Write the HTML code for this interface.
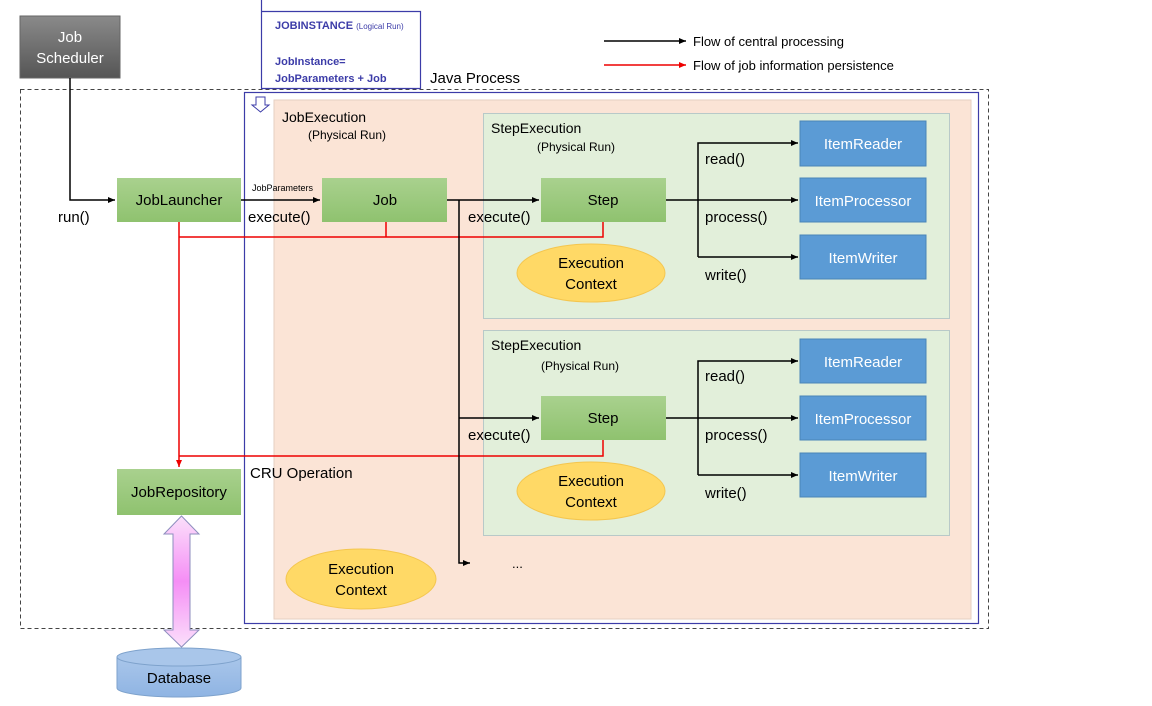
<!DOCTYPE html>
<html><head><meta charset="utf-8"><style>
html,body{margin:0;padding:0;background:#fff;}
svg text{font-family:"Liberation Sans",sans-serif;}
</style></head><body>
<svg width="1152" height="701" viewBox="0 0 1152 701" xmlns="http://www.w3.org/2000/svg">
<defs>
<marker id="ab" markerWidth="8" markerHeight="8" refX="7" refY="4" orient="auto" markerUnits="userSpaceOnUse"><path d="M0,1 L7,4 L0,7 z" fill="#000"/></marker>
<marker id="ar" markerWidth="8" markerHeight="8" refX="7" refY="4" orient="auto" markerUnits="userSpaceOnUse"><path d="M0,1 L7,4 L0,7 z" fill="#e00"/></marker>
<linearGradient id="gg" x1="0" y1="0" x2="0" y2="1"><stop offset="0" stop-color="#a9d18e"/><stop offset="1" stop-color="#8fc26f"/></linearGradient>
<linearGradient id="gs" x1="0" y1="0" x2="0" y2="1"><stop offset="0" stop-color="#8a8a8a"/><stop offset="1" stop-color="#555"/></linearGradient>
<linearGradient id="gp" x1="0" y1="0" x2="0" y2="1"><stop offset="0" stop-color="#fbe0fb"/><stop offset="0.5" stop-color="#f58ef5"/><stop offset="1" stop-color="#fbe0fb"/></linearGradient>
<linearGradient id="gd" x1="0" y1="0" x2="0" y2="1"><stop offset="0" stop-color="#a9c6ea"/><stop offset="1" stop-color="#8fb4e3"/></linearGradient>
</defs>

<!-- legend -->
<line x1="604" y1="41" x2="686" y2="41" stroke="#000" stroke-width="1.5" marker-end="url(#ab)"/>
<text x="693" y="46" font-size="13">Flow of central processing</text>
<line x1="604" y1="65" x2="686" y2="65" stroke="#e00" stroke-width="1.5" marker-end="url(#ar)"/>
<text x="693" y="70" font-size="13">Flow of job information persistence</text>

<!-- Job scheduler -->
<rect x="20" y="16" width="100" height="62" fill="url(#gs)" stroke="#666"/>
<text x="70" y="42" font-size="15" text-anchor="middle" fill="#fff">Job</text>
<text x="70" y="63" font-size="15" text-anchor="middle" fill="#fff">Scheduler</text>

<!-- Java process -->
<rect x="20.5" y="89.5" width="968" height="539" fill="none" stroke="#444" stroke-dasharray="4,3"/>
<text x="430" y="83" font-size="15">Java Process</text>

<!-- JobExecution -->
<rect x="274" y="100" width="697" height="519" fill="#fbe4d6" stroke="#e6cfc2"/>
<rect x="244.5" y="92.5" width="734" height="531" fill="none" stroke="#3c3ca8" stroke-width="1.2"/>
<text x="282" y="122" font-size="14">JobExecution</text>
<text x="308" y="139" font-size="12">(Physical Run)</text>

<!-- JOBINSTANCE -->
<path d="M261.5,0 V88.5 H420.5 V11.5 H261.5" fill="#fff" stroke="#3c3ca8" stroke-width="1.2"/>
<text x="275" y="29" font-size="11" font-weight="bold" fill="#3c3ca8">JOBINSTANCE <tspan font-size="8" font-weight="normal">(Logical Run)</tspan></text>
<text x="275" y="65" font-size="11" font-weight="bold" fill="#3c3ca8">JobInstance=</text>
<text x="275" y="82" font-size="11" font-weight="bold" fill="#3c3ca8">JobParameters + Job</text>
<path d="M256,97 H265 V105 H269 L260.5,112 L252,105 H256 Z" fill="#fff" stroke="#3c3ca8"/>

<!-- StepExecutions -->
<rect x="483.5" y="113.5" width="466" height="205" fill="#e2efda" stroke="#b8c9c8"/>
<text x="491" y="133" font-size="14">StepExecution</text>
<text x="537" y="151" font-size="12">(Physical Run)</text>
<rect x="483.5" y="330.5" width="466" height="205" fill="#e2efda" stroke="#b8c9c8"/>
<text x="491" y="350" font-size="14">StepExecution</text>
<text x="541" y="370" font-size="12">(Physical Run)</text>

<!-- red lines -->
<g stroke="#e00" stroke-width="1.5" fill="none">
<path d="M179,222 V467" marker-end="url(#ar)"/>
<path d="M179,237 H603 V222"/>
<path d="M386,222 V237"/>
<path d="M179,456 H603 V440"/>
</g>

<!-- black lines -->
<g stroke="#000" stroke-width="1.5" fill="none">
<path d="M70,78 V200 H115" marker-end="url(#ab)"/>
<path d="M241,200 H320" marker-end="url(#ab)"/>
<path d="M447,200 H539" marker-end="url(#ab)"/>
<path d="M459,200 V563 H470" marker-end="url(#ab)"/>
<path d="M459,418 H539" marker-end="url(#ab)"/>
<path d="M666,200 H798" marker-end="url(#ab)"/>
<path d="M698,257 V143 H798" marker-end="url(#ab)"/>
<path d="M698,257 H798" marker-end="url(#ab)"/>
<path d="M666,418 H798" marker-end="url(#ab)"/>
<path d="M698,475 V361 H798" marker-end="url(#ab)"/>
<path d="M698,475 H798" marker-end="url(#ab)"/>
</g>

<!-- green boxes -->
<rect x="117" y="178" width="124" height="44" fill="url(#gg)"/>
<text x="179" y="205" font-size="15" text-anchor="middle">JobLauncher</text>
<rect x="322" y="178" width="125" height="44" fill="url(#gg)"/>
<text x="385" y="205" font-size="15" text-anchor="middle">Job</text>
<rect x="541" y="178" width="125" height="44" fill="url(#gg)"/>
<text x="603" y="205" font-size="15" text-anchor="middle">Step</text>
<rect x="541" y="396" width="125" height="44" fill="url(#gg)"/>
<text x="603" y="423" font-size="15" text-anchor="middle">Step</text>
<rect x="117" y="469" width="124" height="46" fill="url(#gg)"/>
<text x="179" y="497" font-size="15" text-anchor="middle">JobRepository</text>

<!-- labels -->
<text x="58" y="222" font-size="15">run()</text>
<text x="252" y="191" font-size="9">JobParameters</text>
<text x="248" y="222" font-size="15">execute()</text>
<text x="468" y="222" font-size="15">execute()</text>
<text x="468" y="440" font-size="15">execute()</text>
<text x="250" y="478" font-size="15">CRU Operation</text>
<text x="512" y="568" font-size="13">...</text>
<text x="705" y="164" font-size="15">read()</text>
<text x="705" y="222" font-size="15">process()</text>
<text x="705" y="280" font-size="15">write()</text>
<text x="705" y="381" font-size="15">read()</text>
<text x="705" y="440" font-size="15">process()</text>
<text x="705" y="498" font-size="15">write()</text>

<!-- blue boxes -->
<g fill="#5b9bd5" stroke="#4a84b8">
<rect x="800" y="121" width="126" height="45"/><rect x="800" y="178" width="126" height="44"/><rect x="800" y="235" width="126" height="44"/>
<rect x="800" y="339" width="126" height="44"/><rect x="800" y="396" width="126" height="44"/><rect x="800" y="453" width="126" height="44"/>
</g>
<g fill="#fff" font-size="15" text-anchor="middle">
<text x="863" y="149">ItemReader</text><text x="863" y="206">ItemProcessor</text><text x="863" y="263">ItemWriter</text>
<text x="863" y="367">ItemReader</text><text x="863" y="424">ItemProcessor</text><text x="863" y="481">ItemWriter</text>
</g>

<!-- ellipses -->
<g fill="#ffd966" stroke="#f4c64f">
<ellipse cx="591" cy="273" rx="74" ry="29"/>
<ellipse cx="591" cy="491" rx="74" ry="29"/>
<ellipse cx="361" cy="579" rx="75" ry="30"/>
</g>
<g font-size="15" text-anchor="middle">
<text x="591" y="268">Execution</text><text x="591" y="289">Context</text>
<text x="591" y="486">Execution</text><text x="591" y="507">Context</text>
<text x="361" y="574">Execution</text><text x="361" y="595">Context</text>
</g>

<!-- double arrow -->
<path d="M181.5,516 L199,534 H190 V630 H199 L181.5,647 L164,630 H173 V534 H164 Z" fill="url(#gp)" stroke="#8e8ebe"/>

<!-- database -->
<path d="M117,657 V688 A62,9 0 0 0 241,688 V657" fill="url(#gd)" stroke="#7ea2cc"/>
<ellipse cx="179" cy="657" rx="62" ry="9" fill="#a9c6ea" stroke="#7ea2cc"/>
<text x="179" y="683" font-size="15" text-anchor="middle">Database</text>
</svg>
</body></html>
